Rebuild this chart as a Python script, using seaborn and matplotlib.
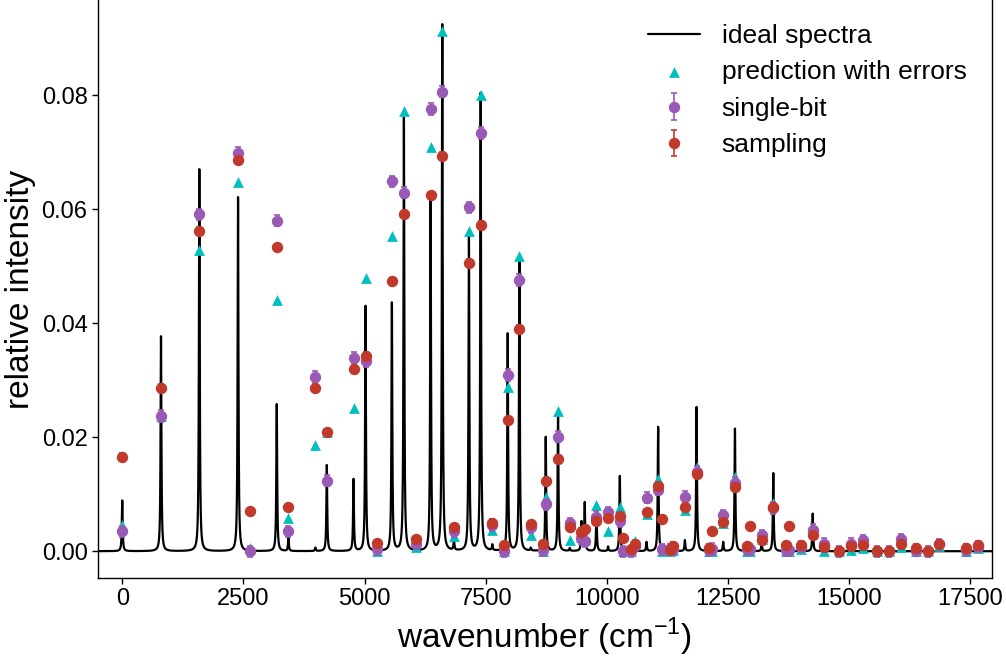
import numpy as np
import pandas as pd
import matplotlib
matplotlib.use("Agg")
import matplotlib.pyplot as plt
import seaborn as sns

# ideal stick spectrum: peak position (cm^-1) and height
peak_pos = [0, 800, 1591, 2390, 3189, 3430, 3985, 4222, 4773, 5021,
            5565, 5813, 6364, 6605, 6846, 7155, 7397, 7638, 7955, 8196,
            8430, 8740, 8994, 9236, 9477, 9545, 9787, 10027, 10269, 10579,
            10820, 11060, 11370, 11612, 11853, 12163, 12403, 12645, 12955, 13196,
            13436, 13760, 14002, 14250, 15041]
peak_height = [0.0089, 0.0377, 0.0670, 0.0621, 0.0258, 0.0024, 0.0006, 0.0151, 0.0126, 0.0430,
               0.0435, 0.0760, 0.0625, 0.0923, 0.0019, 0.0560, 0.0803, 0.0010, 0.0381, 0.0515,
               0.0005, 0.0200, 0.0245, 0.0005, 0.0051, 0.0085, 0.0070, 0.0008, 0.0132, 0.0003,
               0.0016, 0.0218, 0.0003, 0.0019, 0.0253, 0.0003, 0.0016, 0.0215, 0.0003, 0.0014,
               0.0137, 0.0003, 0.0002, 0.0066, 0.0012]
gamma = 10.0  # lorentzian half width used for the ideal line

# computed points
wn = [0, 800, 1591, 2390, 2638, 3189, 3430, 3981, 4222, 4773,
      5021, 5262, 5565, 5813, 6054, 6364, 6605, 6846, 7155, 7397,
      7638, 7878, 7955, 8196, 8430, 8684, 8740, 8994, 9236, 9477,
      9545, 9787, 10027, 10269, 10338, 10510, 10579, 10820, 11060, 11130,
      11302, 11370, 11612, 11853, 12114, 12163, 12403, 12645, 12886, 12962,
      13196, 13436, 13692, 13760, 14002, 14250, 14490, 14793, 15041, 15283,
      15585, 15833, 16074, 16384, 16626, 16866, 17417, 17658]
prediction = [0.0046, 0.0238, 0.0529, 0.0648, 0.0006, 0.0440, 0.0058, 0.0187, 0.0210, 0.0251,
              0.0479, 0.0000, 0.0553, 0.0772, 0.0008, 0.0709, 0.0912, 0.0027, 0.0561, 0.0800,
              0.0037, 0.0000, 0.0288, 0.0518, 0.0028, 0.0000, 0.0095, 0.0246, 0.0019, 0.0025,
              0.0020, 0.0081, 0.0036, 0.0077, 0.0000, 0.0000, 0.0018, 0.0065, 0.0126, 0.0000,
              0.0000, 0.0002, 0.0072, 0.0147, 0.0000, 0.0000, 0.0050, 0.0130, 0.0000, 0.0000,
              0.0022, 0.0085, 0.0000, 0.0000, 0.0004, 0.0035, 0.0000, 0.0000, 0.0002, 0.0005,
              0.0000, 0.0000, 0.0008, 0.0000, 0.0000, 0.0010, 0.0000, 0.0006]
single_bit = [0.0035, 0.0237, 0.0591, 0.0699, 0.0000, 0.0580, 0.0035, 0.0306, 0.0124, 0.0339,
              0.0333, 0.0004, 0.0649, 0.0629, 0.0013, 0.0776, 0.0806, 0.0035, 0.0603, 0.0734,
              0.0046, 0.0000, 0.0309, 0.0476, 0.0042, 0.0002, 0.0082, 0.0201, 0.0049, 0.0023,
              0.0018, 0.0060, 0.0068, 0.0053, 0.0000, 0.0000, 0.0010, 0.0094, 0.0108, 0.0003,
              0.0003, 0.0004, 0.0095, 0.0139, 0.0002, 0.0004, 0.0063, 0.0120, 0.0004, 0.0003,
              0.0028, 0.0076, 0.0002, 0.0002, 0.0008, 0.0037, 0.0013, 0.0000, 0.0013, 0.0019,
              0.0000, 0.0000, 0.0021, 0.0001, 0.0000, 0.0012, 0.0002, 0.0008]
sampling = [0.0166, 0.0287, 0.0562, 0.0686, 0.0070, 0.0533, 0.0077, 0.0287, 0.0209, 0.0319,
            0.0343, 0.0014, 0.0474, 0.0591, 0.0021, 0.0625, 0.0694, 0.0042, 0.0506, 0.0573,
            0.0050, 0.0011, 0.0230, 0.0390, 0.0047, 0.0012, 0.0123, 0.0162, 0.0042, 0.0034,
            0.0039, 0.0053, 0.0058, 0.0061, 0.0023, 0.0004, 0.0012, 0.0068, 0.0115, 0.0056,
            0.0002, 0.0010, 0.0077, 0.0135, 0.0006, 0.0035, 0.0051, 0.0113, 0.0009, 0.0044,
            0.0020, 0.0077, 0.0011, 0.0044, 0.0011, 0.0028, 0.0008, 0.0001, 0.0009, 0.0011,
            0.0001, 0.0001, 0.0013, 0.0006, 0.0000, 0.0013, 0.0006, 0.0011]
single_bit_err = 0.0010
sampling_err = 0.0006

sns.set_style("ticks")
plt.rcParams['font.family'] = ['Liberation Sans', 'DejaVu Sans']
plt.rcParams['mathtext.fontset'] = 'custom'
plt.rcParams['mathtext.rm'] = 'Liberation Sans'
for k in ['text.color', 'axes.labelcolor', 'xtick.color', 'ytick.color', 'axes.edgecolor']:
    plt.rcParams[k] = 'black'

# broaden the sticks into the ideal line
grid = np.arange(-500, 17951, 1.0)
spec = np.zeros_like(grid)
for p, h in zip(peak_pos, peak_height):
    spec += h * gamma**2 / ((grid - p)**2 + gamma**2)
ideal = pd.DataFrame({'wavenumber': grid, 'intensity': spec})

fig = plt.figure(figsize=(10.06, 6.58), dpi=100)
ax = fig.add_axes([98/1006, 80/658, 894/1006, 578/658])

sns.lineplot(data=ideal, x='wavenumber', y='intensity', color='black', lw=1.6,
             label='ideal spectra', ax=ax, errorbar=None)
sns.scatterplot(x=wn, y=prediction, marker='^', color='#00BFBF', s=60, linewidth=0,
                label='prediction with errors', ax=ax, zorder=3)
ax.errorbar(wn, single_bit, yerr=single_bit_err, fmt='o', color='#9B59B6', ms=7.2,
            capsize=2.5, elinewidth=1.2, capthick=1.2, label='single-bit', zorder=4)
ax.errorbar(wn, sampling, yerr=sampling_err, fmt='o', color='#C0392B', ms=7.2,
            capsize=2.5, elinewidth=1.2, capthick=1.2, label='sampling', zorder=5)

ax.set_xlim(-500, 17950)
ax.set_ylim(-0.0047, 0.0967)
ax.set_xticks([0, 2500, 5000, 7500, 10000, 12500, 15000, 17500])
ax.set_yticks([0.0, 0.02, 0.04, 0.06, 0.08])
ax.yaxis.set_major_formatter(matplotlib.ticker.FormatStrFormatter('%.2f'))
ax.tick_params(labelsize=17, length=4, width=1)
ax.set_xlabel('wavenumber (cm$^{-1}$)', fontsize=24)
ax.set_ylabel('relative intensity', fontsize=24)
ax.spines['top'].set_visible(False)
for s in ['left', 'right', 'bottom']:
    ax.spines[s].set_linewidth(1.0)

ax.legend(loc='upper right', frameon=False, fontsize=19, bbox_to_anchor=(0.995, 0.995),
          handlelength=2.0, handletextpad=0.8, labelspacing=0.47, borderaxespad=0.4)

fig.savefig('out.png', dpi=100)
